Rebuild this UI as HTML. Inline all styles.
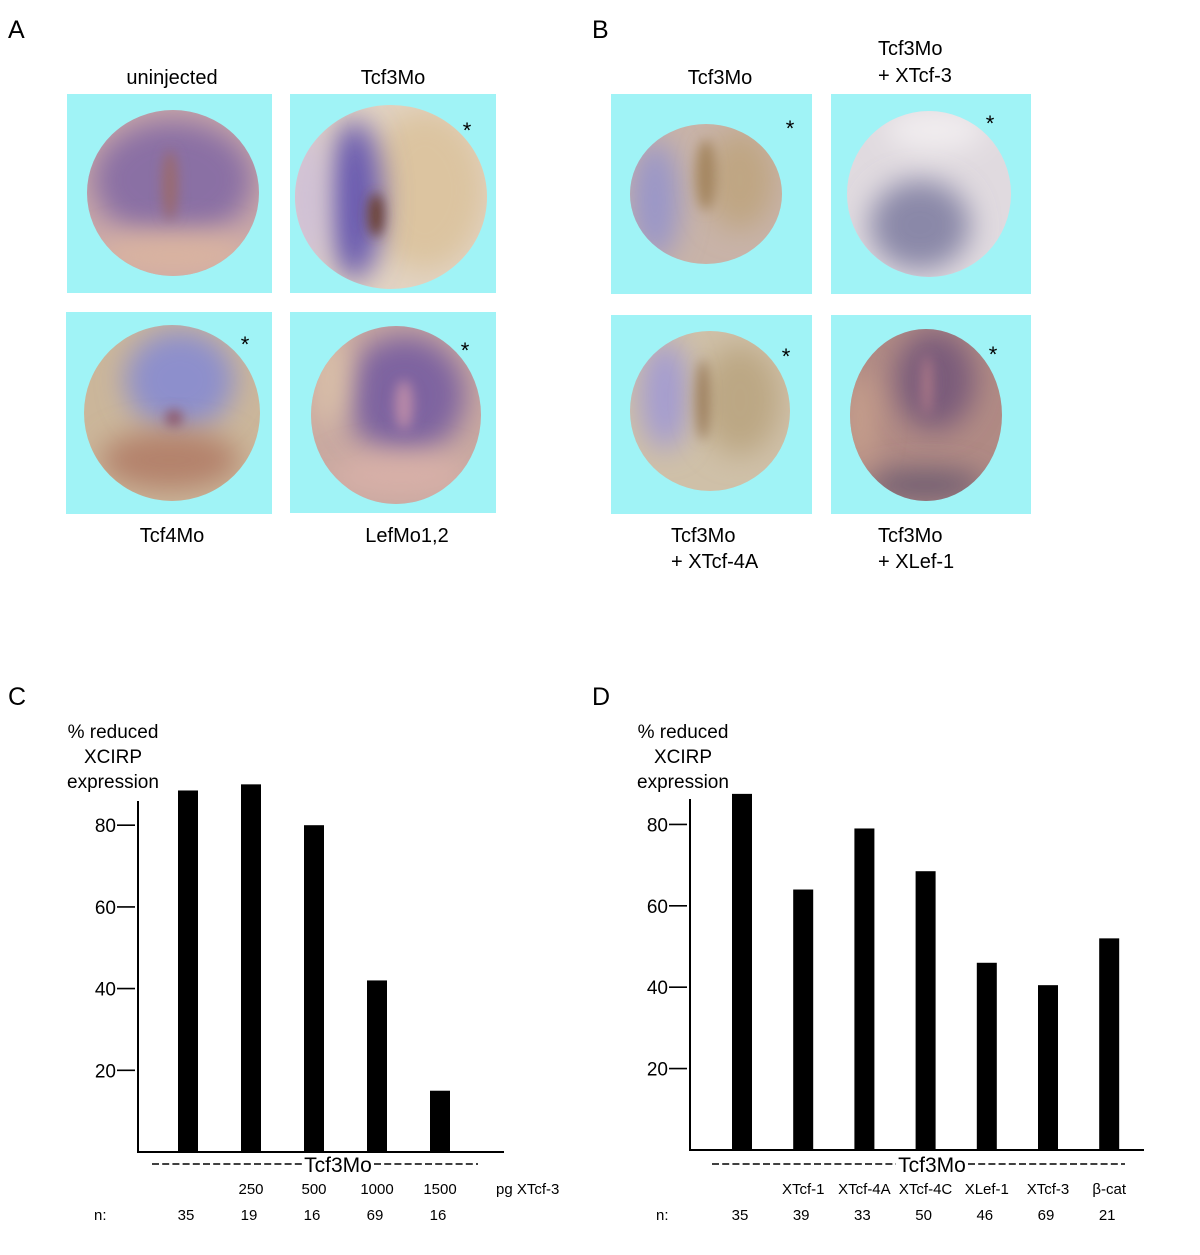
<!DOCTYPE html>
<html><head><meta charset="utf-8">
<style>
html,body{margin:0;padding:0;background:#fff;}
svg{display:block;font-family:"Liberation Sans",Arial,sans-serif;}
</style></head>
<body>
<svg id="fig" width="1200" height="1255" viewBox="0 0 1200 1255" xmlns="http://www.w3.org/2000/svg">
<defs>
  <filter id="blur" filterUnits="userSpaceOnUse" x="0" y="0" width="1200" height="700"><feGaussianBlur stdDeviation="14"/></filter>
  <filter id="blurS" filterUnits="userSpaceOnUse" x="0" y="0" width="1200" height="700"><feGaussianBlur stdDeviation="6"/></filter>
  <clipPath id="cA1"><ellipse cx="173" cy="193" rx="86" ry="83"/></clipPath>
  <clipPath id="cA2"><ellipse cx="391" cy="197" rx="96" ry="92"/></clipPath>
  <clipPath id="cA3"><ellipse cx="172" cy="413" rx="88" ry="88"/></clipPath>
  <clipPath id="cA4"><ellipse cx="396" cy="415" rx="85" ry="89"/></clipPath>
  <clipPath id="cB1"><ellipse cx="706" cy="194" rx="76" ry="70"/></clipPath>
  <clipPath id="cB2"><ellipse cx="929" cy="194" rx="82" ry="83"/></clipPath>
  <clipPath id="cB3"><ellipse cx="710" cy="411" rx="80" ry="80"/></clipPath>
  <clipPath id="cB4"><ellipse cx="926" cy="415" rx="76" ry="86"/></clipPath>
</defs>

<text x="8" y="38" font-size="25">A</text>
<text x="592" y="38" font-size="25">B</text>
<text x="8" y="705" font-size="25">C</text>
<text x="592" y="705" font-size="25">D</text>

<g>
  <text x="172" y="84" font-size="20" text-anchor="middle">uninjected</text>
  <text x="393" y="84" font-size="20" text-anchor="middle">Tcf3Mo</text>
  <text x="172" y="542" font-size="20" text-anchor="middle">Tcf4Mo</text>
  <text x="407" y="542" font-size="20" text-anchor="middle">LefMo1,2</text>

  <rect x="67" y="94" width="205" height="199" fill="#a0f3f6"/>
  <g clip-path="url(#cA1)">
    <rect x="80" y="100" width="190" height="190" fill="#c9a7a8"/>
    <ellipse cx="173" cy="180" rx="80" ry="60" fill="#8a6fa4" filter="url(#blur)"/>
    <ellipse cx="173" cy="255" rx="80" ry="25" fill="#d9b3a0" filter="url(#blur)"/>
    <ellipse cx="170" cy="185" rx="8" ry="35" fill="#9a6a70" filter="url(#blurS)"/>
  </g>

  <rect x="290" y="94" width="206" height="199" fill="#a0f3f6"/>
  <g clip-path="url(#cA2)">
    <rect x="290" y="100" width="200" height="195" fill="#e2d3c2"/>
    <ellipse cx="425" cy="190" rx="60" ry="80" fill="#dcc4a0" filter="url(#blur)"/>
    <ellipse cx="355" cy="200" rx="28" ry="80" fill="#6a5cb0" filter="url(#blur)"/>
    <ellipse cx="305" cy="200" rx="20" ry="80" fill="#cfc0d8" filter="url(#blur)"/>
    <ellipse cx="376" cy="215" rx="8" ry="22" fill="#6a4030" filter="url(#blurS)"/>
  </g>
  <text x="467" y="138" font-size="22" text-anchor="middle">*</text>

  <rect x="66" y="312" width="206" height="202" fill="#a0f3f6"/>
  <g clip-path="url(#cA3)">
    <rect x="80" y="320" width="190" height="190" fill="#cbb69a"/>
    <ellipse cx="180" cy="380" rx="55" ry="50" fill="#8d8fcc" filter="url(#blur)"/>
    <ellipse cx="170" cy="460" rx="70" ry="30" fill="#b4826c" filter="url(#blur)"/>
    <ellipse cx="174" cy="418" rx="8" ry="8" fill="#8a5060" filter="url(#blurS)"/>
  </g>
  <text x="245" y="352" font-size="22" text-anchor="middle">*</text>

  <rect x="290" y="312" width="206" height="201" fill="#a0f3f6"/>
  <g clip-path="url(#cA4)">
    <rect x="300" y="320" width="190" height="190" fill="#c8a8a0"/>
    <ellipse cx="405" cy="395" rx="60" ry="60" fill="#7e64a0" filter="url(#blur)"/>
    <ellipse cx="330" cy="380" rx="20" ry="50" fill="#d9bfa8" filter="url(#blur)"/>
    <ellipse cx="400" cy="475" rx="70" ry="22" fill="#d8b0a8" filter="url(#blur)"/>
    <ellipse cx="404" cy="405" rx="9" ry="25" fill="#b98aa8" filter="url(#blurS)"/>
  </g>
  <text x="465" y="358" font-size="22" text-anchor="middle">*</text>
</g>

<g>
  <text x="720" y="84" font-size="20" text-anchor="middle">Tcf3Mo</text>
  <text x="878" y="55" font-size="20">Tcf3Mo</text>
  <text x="878" y="82" font-size="20">+ XTcf-3</text>
  <text x="671" y="542" font-size="20">Tcf3Mo</text>
  <text x="671" y="568" font-size="20">+ XTcf-4A</text>
  <text x="878" y="542" font-size="20">Tcf3Mo</text>
  <text x="878" y="568" font-size="20">+ XLef-1</text>

  <rect x="611" y="94" width="201" height="200" fill="#a0f3f6"/>
  <g clip-path="url(#cB1)">
    <rect x="620" y="110" width="180" height="170" fill="#c8b3a8"/>
    <ellipse cx="655" cy="200" rx="25" ry="60" fill="#9a96c8" filter="url(#blur)"/>
    <ellipse cx="740" cy="180" rx="35" ry="50" fill="#bfa683" filter="url(#blur)"/>
    <ellipse cx="706" cy="175" rx="10" ry="35" fill="#a48660" filter="url(#blurS)"/>
  </g>
  <text x="790" y="136" font-size="22" text-anchor="middle">*</text>

  <rect x="831" y="94" width="200" height="200" fill="#a0f3f6"/>
  <g clip-path="url(#cB2)">
    <rect x="840" y="105" width="180" height="180" fill="#e0dadf"/>
    <ellipse cx="920" cy="225" rx="50" ry="45" fill="#8a88a8" filter="url(#blur)"/>
    <ellipse cx="935" cy="130" rx="50" ry="20" fill="#f2eef0" filter="url(#blur)"/>
  </g>
  <text x="990" y="131" font-size="22" text-anchor="middle">*</text>

  <rect x="611" y="315" width="201" height="199" fill="#a0f3f6"/>
  <g clip-path="url(#cB3)">
    <rect x="620" y="325" width="180" height="180" fill="#cfc0a8"/>
    <ellipse cx="665" cy="395" rx="25" ry="55" fill="#a49cd0" filter="url(#blur)"/>
    <ellipse cx="740" cy="400" rx="40" ry="55" fill="#bca784" filter="url(#blur)"/>
    <ellipse cx="703" cy="400" rx="6" ry="40" fill="#9a7a58" filter="url(#blurS)"/>
  </g>
  <text x="786" y="364" font-size="22" text-anchor="middle">*</text>

  <rect x="831" y="315" width="200" height="199" fill="#a0f3f6"/>
  <g clip-path="url(#cB4)">
    <rect x="840" y="325" width="180" height="180" fill="#b08a84"/>
    <ellipse cx="935" cy="380" rx="40" ry="50" fill="#7a5c7a" filter="url(#blur)"/>
    <ellipse cx="925" cy="485" rx="60" ry="15" fill="#6c5a70" filter="url(#blur)"/>
    <ellipse cx="860" cy="420" rx="15" ry="50" fill="#c8a08c" filter="url(#blur)"/>
    <ellipse cx="927" cy="385" rx="5" ry="30" fill="#b07a88" filter="url(#blurS)"/>
  </g>
  <text x="993" y="362" font-size="22" text-anchor="middle">*</text>
</g>

<g id="chartC"></g>
<g id="chartD"></g>
</svg>

<script>
const cCategories = ["", "250", "500", "1000", "1500"];
const cValues = [88.5, 90, 80, 42, 15];
const cCounts = ["35", "19", "16", "69", "16"];
const cTicks = [20, 40, 60, 80];

const dCategories = ["", "XTcf-1", "XTcf-4A", "XTcf-4C", "XLef-1", "XTcf-3", "\u03b2-cat"];
const dValues = [87.5, 64, 79, 68.5, 46, 40.5, 52];
const dCounts = ["35", "39", "33", "50", "46", "69", "21"];
const dTicks = [20, 40, 60, 80];

const NS = "http://www.w3.org/2000/svg";
function mk(parent, tag, attrs, text) {
  const e = document.createElementNS(NS, tag);
  for (const k in attrs) e.setAttribute(k, attrs[k]);
  if (text !== undefined) e.textContent = text;
  parent.appendChild(e);
  return e;
}

function drawChart(g, cfg, cats, vals, counts, ticks, prefix) {
  const y = v => cfg.base - v * cfg.pxPerUnit;
  const x = i => cfg.firstX + i * cfg.step;

  ["% reduced", "XCIRP", "expression"].forEach((t, i) => {
    const el = mk(g, "text", {x: cfg.titleX, y: 738 + i * 25, "font-size": 19, "text-anchor": "middle"}, t);
    
    
  });

  const ya = mk(g, "line", {x1: cfg.axisX, y1: cfg.axisTop, x2: cfg.axisX, y2: cfg.base + 1, stroke: "#000", "stroke-width": 2});
  
  
  const xa = mk(g, "line", {x1: cfg.axisX - 1, y1: cfg.base, x2: cfg.axisRight, y2: cfg.base, stroke: "#000", "stroke-width": 2});
  
  

  ticks.forEach(t => {
    const tl = mk(g, "line", {x1: cfg.axisX - 21, y1: y(t), x2: cfg.axisX - 3, y2: y(t), stroke: "#000", "stroke-width": 1.6});
    
    
    const tt = mk(g, "text", {x: cfg.axisX - 22, y: y(t) + 7, "font-size": 19, "text-anchor": "end"}, String(t));
    
    
  });

  vals.forEach((v, i) => {
    const b = mk(g, "rect", {x: x(i) - 10, y: y(v), width: 20, height: cfg.base - y(v), fill: "#000"});
    
    
  });

  const tx = cfg.tcfX;
  const d1 = mk(g, "line", {x1: cfg.dashL, y1: 1164, x2: tx - 36, y2: 1164, stroke: "#000", "stroke-width": 1.5, "stroke-dasharray": "7 3.2"});
  
  
  const d2 = mk(g, "line", {x1: tx + 36, y1: 1164, x2: cfg.dashR, y2: 1164, stroke: "#000", "stroke-width": 1.5, "stroke-dasharray": "7 3.2"});
  
  
  const tl = mk(g, "text", {x: tx, y: 1172, "font-size": 21, "text-anchor": "middle"}, "Tcf3Mo");
  
  

  cats.forEach((c, i) => {
    if (!c) return;
    const el = mk(g, "text", {x: x(i), y: 1194, "font-size": 15, "text-anchor": "middle"}, c);
    
    
  });
  if (cfg.unit) {
    const u = mk(g, "text", {x: cfg.unitX, y: 1194, "font-size": 15}, cfg.unit);
    
    
  }

  const n = mk(g, "text", {x: cfg.nX, y: 1220, "font-size": 15}, "n:");
  
  
  counts.forEach((c, i) => {
    const el = mk(g, "text", {x: x(i) - 2, y: 1220, "font-size": 15, "text-anchor": "middle"}, c);
    
    
  });
}

drawChart(document.getElementById("chartC"),
  {base: 1152, pxPerUnit: 4.085, axisX: 138, axisTop: 801, axisRight: 504,
   firstX: 188, step: 63, titleX: 113, tcfX: 338, dashL: 152, dashR: 478,
   unit: "pg XTcf-3", unitX: 496, nX: 94},
  cCategories, cValues, cCounts, cTicks, "c");

drawChart(document.getElementById("chartD"),
  {base: 1150, pxPerUnit: 4.07, axisX: 690, axisTop: 799, axisRight: 1144,
   firstX: 742, step: 61.2, titleX: 683, tcfX: 932, dashL: 712, dashR: 1125,
   unit: "", unitX: 0, nX: 656},
  dCategories, dValues, dCounts, dTicks, "d");
</script>
</body></html>
